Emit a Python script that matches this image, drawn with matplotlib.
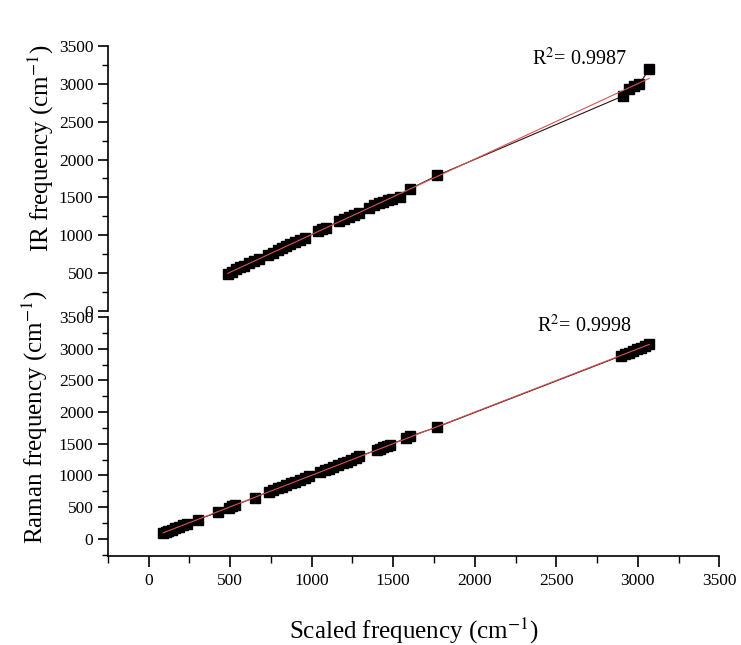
import numpy as np
import matplotlib
matplotlib.use("Agg")
import matplotlib.pyplot as plt
from matplotlib.ticker import MultipleLocator

plt.rcParams['font.family'] = ['Liberation Serif', 'DejaVu Serif']
plt.rcParams['mathtext.fontset'] = 'stix'

# IR: scaled vs observed frequency (cm-1)
ir_x = [485, 510, 535, 560, 585, 615, 645, 675, 730, 760, 790, 815, 840,
        865, 895, 925, 960, 1040, 1065, 1090, 1170, 1200, 1230, 1260, 1290,
        1350, 1380, 1410, 1440, 1465, 1490, 1540, 1600, 1770,
        2910, 2945, 2975, 3010, 3070]
ir_y = [495, 520, 550, 575, 600, 630, 655, 690, 745, 770, 800, 830, 855,
        880, 905, 940, 970, 1050, 1080, 1100, 1190, 1220, 1245, 1270, 1300,
        1360, 1395, 1420, 1445, 1460, 1480, 1510, 1610, 1790,
        2840, 2925, 2965, 3000, 3190]

# Raman
ra_x = [88, 105, 120, 140, 160, 185, 210, 235, 300, 425, 495, 510, 530,
        650, 735, 760, 790, 815, 845, 870, 895, 925, 960, 985, 1050, 1080,
        1105, 1130, 1160, 1190, 1215, 1240, 1270, 1290, 1400, 1420, 1440,
        1460, 1480, 1580, 1605, 1770, 2900, 2920, 2945, 2970, 2995, 3020,
        3045, 3070]
ra_y = [90, 110, 125, 145, 165, 190, 215, 240, 305, 420, 490, 515, 535,
        650, 745, 770, 795, 820, 850, 875, 900, 930, 965, 995, 1060, 1085,
        1110, 1135, 1165, 1195, 1220, 1245, 1275, 1300, 1405, 1425, 1445,
        1465, 1485, 1590, 1620, 1765, 2890, 2915, 2940, 2965, 2990, 3015,
        3040, 3070]

r2_ir = "0.9987"
r2_ra = "0.9998"

fig = plt.figure(figsize=(7.41, 6.45), dpi=100)
ax1 = fig.add_axes([0.1457, 0.5178, 0.825, 0.411])
ax2 = fig.add_axes([0.1457, 0.138, 0.825, 0.3705], sharex=ax1)

fitc = "#d9534f"
for ax, x, y in [(ax1, ir_x, ir_y), (ax2, ra_x, ra_y)]:
    x = np.array(x); y = np.array(y)
    ax.plot(x, y, color="#2b1010", lw=0.8, marker="s", ms=7, mfc="black",
            mec="black", zorder=3)
    p = np.polyfit(x, y, 1)
    xf = np.array([x.min(), x.max()])
    ax.plot(xf, np.polyval(p, xf), color=fitc, lw=0.8, zorder=4)
    for s in ["top", "right"]:
        ax.spines[s].set_visible(False)
    ax.spines["left"].set_linewidth(1.2)
    ax.yaxis.set_major_locator(MultipleLocator(500))
    ax.yaxis.set_minor_locator(MultipleLocator(250))
    ax.tick_params(axis="y", which="major", length=7, width=1.2, labelsize=12.5)
    ax.tick_params(axis="y", which="minor", length=4, width=1.0)

ax1.text(2352, 3245, r"R$^2$= " + r2_ir, fontsize=14.5)
ax2.text(2382, 3258, r"R$^2$= " + r2_ra, fontsize=14.5)

ax1.set_ylim(0, 3500)
ax1.spines["bottom"].set_visible(False)
ax1.tick_params(axis="x", which="both", bottom=False, labelbottom=False)

ax2.set_ylim(-270, 3500)
ax2.set_xlim(-250, 3500)
ax2.spines["bottom"].set_linewidth(1.2)
ax2.xaxis.set_major_locator(MultipleLocator(500))
ax2.xaxis.set_minor_locator(MultipleLocator(250))
ax2.tick_params(axis="x", which="major", length=8, width=1.2, labelsize=12.5, pad=4)
ax2.tick_params(axis="x", which="minor", length=5, width=1.0)

ax1.set_ylabel(r"IR frequency (cm$^{-1}$)", fontsize=18)
ax1.yaxis.set_label_coords(-0.085, 0.615)
ax2.set_ylabel(r"Raman frequency (cm$^{-1}$)", fontsize=18)
ax2.yaxis.set_label_coords(-0.095, 0.58)
ax2.set_xlabel(r"Scaled frequency (cm$^{-1}$)", fontsize=18)
ax2.xaxis.set_label_coords(0.5, -0.25)

fig.savefig("out.png", dpi=100)
